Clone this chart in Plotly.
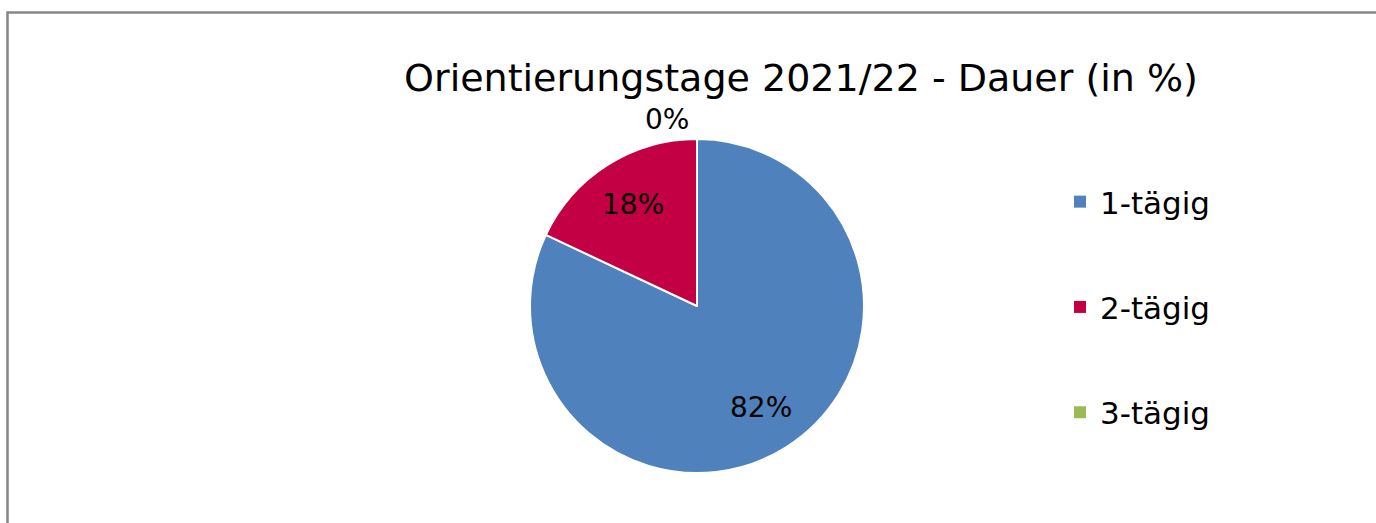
import math
import plotly.graph_objects as go

categories = ["1-tägig", "2-tägig", "3-tägig"]
values = [82, 18, 0]
colors = ["#4F81BD", "#C40045", "#9BBB59"]
title_text = "Orientierungstage 2021/22 - Dauer (in %)"

W, H = 1376, 523
FONT = "DejaVu Sans"
CX, CY, R = 697, 306, 167  # pie centre and radius in pixels

fig = go.Figure()
fig.add_trace(go.Pie(
    labels=categories,
    values=values,
    sort=False,
    direction="clockwise",
    rotation=0,
    marker=dict(colors=colors, line=dict(color="white", width=2)),
    textinfo="none",
    showlegend=False,
    hoverinfo="label+percent",
    domain=dict(x=[(CX - R) / W, (CX + R) / W], y=[(H - CY - R) / H, (H - CY + R) / H]),
))

# percentage labels placed on each slice's bisector (data driven)
total = sum(values)
cum = 0.0
for v in values:
    share = v / total
    mid = (cum + share / 2) * 2 * math.pi
    cum += share
    txt = f"{round(share * 100)}%"
    if share > 0.02:
        r = 0.72 * R
        fig.add_annotation(x=(CX + r * math.sin(mid)) / W, y=1 - (CY - r * math.cos(mid)) / H,
                           xref="paper", yref="paper", text=txt, showarrow=False,
                           xanchor="center", yanchor="middle",
                           font=dict(family=FONT, size=28, color="black"))
    else:
        r = R + 19
        fig.add_annotation(x=(CX + r * math.sin(mid)) / W, y=1 - (CY - r * math.cos(mid)) / H,
                           xref="paper", yref="paper", text=txt, showarrow=False,
                           xanchor="right", yanchor="middle", xshift=-6,
                           font=dict(family=FONT, size=28, color="black"))

for c, col in zip(categories, colors):
    fig.add_trace(go.Scatter(
        x=[None], y=[None], mode="markers", name=c, legendgroup=c,
        marker=dict(symbol="square", size=15, color=col),
    ))

fig.update_layout(
    width=W, height=H,
    margin=dict(l=0, r=0, t=0, b=0),
    paper_bgcolor="white", plot_bgcolor="white",
    font=dict(family=FONT, color="black"),
    title=dict(text=title_text, x=801 / W, xanchor="center", y=1 - 78 / H, yanchor="middle",
               font=dict(family=FONT, size=38, color="black")),
    xaxis=dict(visible=False), yaxis=dict(visible=False),
    legend=dict(x=1060 / W, y=1 - 175 / H, xanchor="left", yanchor="top",
                font=dict(family=FONT, size=31, color="black"),
                tracegroupgap=62, itemsizing="constant", bgcolor="rgba(0,0,0,0)"),
    shapes=[dict(type="rect", xref="paper", yref="paper",
                 x0=7.5 / W, x1=1.01, y0=-0.02, y1=1 - 12.5 / H,
                 line=dict(color="#868686", width=2.5), layer="above")],
)

fig.write_html("out.html", config={"displayModeBar": False},
               post_script="document.body.style.margin='0';document.body.style.overflow='hidden';")
